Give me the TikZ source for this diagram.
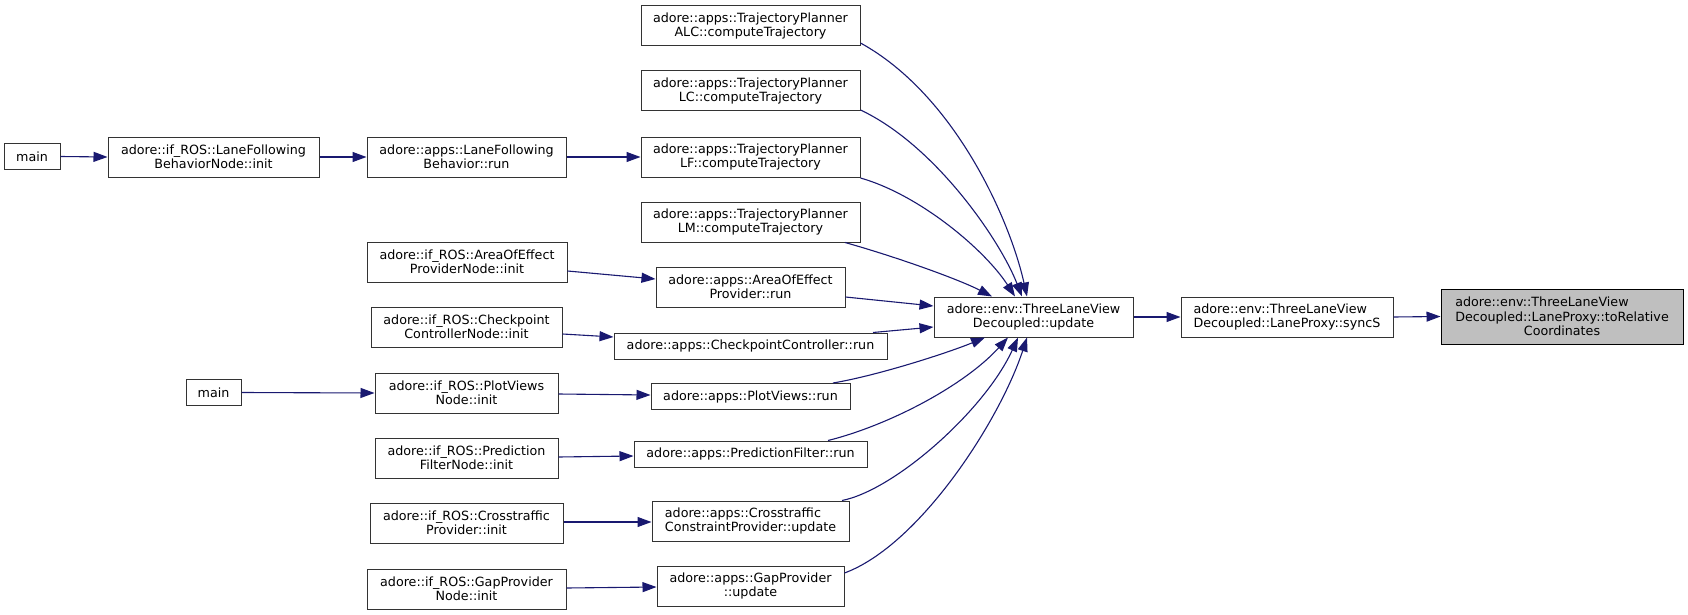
\documentclass[tikz,border=0pt]{standalone}
\usepackage{fontspec}
\setmainfont{DejaVu Sans}
\usetikzlibrary{arrows.meta,calc}
\definecolor{edgecol}{HTML}{191970}
\begin{document}
\begin{tikzpicture}[x=1pt,y=-1pt,
  fn/.style={draw=black!80, line width=1pt, fill=white, inner sep=0pt, align=center,
    font=\fontsize{12.7}{14.5}\selectfont, text=black, minimum height=40pt},
  oneline/.style={minimum height=26pt},
  rootnode/.style={fn, fill=black!25, draw=black},
  edge/.style={draw=edgecol, line width=1.1pt, -{Triangle[length=14pt,width=10pt]}},
]
\useasboundingbox (0,0) rectangle (1688,615);

% nodes
\node[fn, oneline, minimum width=56pt] (main1) at (32,156.5) {main};
\node[fn, minimum width=211pt] (LFBNode) at (213.5,157) {adore::if\_ROS::LaneFollowing\\BehaviorNode::init};
\node[fn, minimum width=199pt] (LFBrun) at (466.5,157) {adore::apps::LaneFollowing\\Behavior::run};

\node[fn, minimum width=219pt] (TPALC) at (750.5,26) {adore::apps::TrajectoryPlanner\\ALC::computeTrajectory};
\node[fn, minimum width=219pt] (TPLC) at (750.5,91) {adore::apps::TrajectoryPlanner\\LC::computeTrajectory};
\node[fn, minimum width=219pt] (TPLF) at (750.5,157) {adore::apps::TrajectoryPlanner\\LF::computeTrajectory};
\node[fn, minimum width=219pt] (TPLM) at (750.5,222) {adore::apps::TrajectoryPlanner\\LM::computeTrajectory};

\node[fn, minimum width=200pt] (AoEnode) at (467,262) {adore::if\_ROS::AreaOfEffect\\ProviderNode::init};
\node[fn, minimum width=189pt] (AoErun) at (750.5,287) {adore::apps::AreaOfEffect\\Provider::run};
\node[fn, minimum width=191pt] (CPnode) at (466.5,327) {adore::if\_ROS::Checkpoint\\ControllerNode::init};
\node[fn, oneline, minimum width=273pt] (CPrun) at (750.5,346) {adore::apps::CheckpointController::run};

\node[fn, oneline, minimum width=55pt] (main2) at (213.5,392.5) {main};
\node[fn, minimum width=183pt] (PVnode) at (466.5,393) {adore::if\_ROS::PlotViews\\Node::init};
\node[fn, oneline, minimum width=199pt] (PVrun) at (750.5,396.5) {adore::apps::PlotViews::run};
\node[fn, minimum width=183pt] (PFnode) at (466.5,458) {adore::if\_ROS::Prediction\\FilterNode::init};
\node[fn, oneline, minimum width=233pt] (PFrun) at (750.5,454) {adore::apps::PredictionFilter::run};
\node[fn, minimum width=193pt] (CTnode) at (466.5,523) {adore::if\_ROS::Crosstraffic\\Provider::init};
\node[fn, minimum width=197pt] (CTrun) at (750.5,521) {\rlap{adore::apps::Crosstraffic}\phantom{ConstraintProvider::update}\\ConstraintProvider::update};
\node[fn, minimum width=199pt] (GPnode) at (466.5,589) {adore::if\_ROS::GapProvider\\Node::init};
\node[fn, minimum width=187pt] (GPrun) at (750.5,586) {adore::apps::GapProvider\\::update};

\node[fn, minimum width=199pt] (update) at (1033.5,317) {adore::env::ThreeLaneView\\Decoupled::update};
\node[fn, minimum width=212pt] (syncS) at (1287,317) {\rlap{adore::env::ThreeLaneView}\phantom{Decoupled::LaneProxy::syncS}\\Decoupled::LaneProxy::syncS};
\node[rootnode, minimum width=242pt, minimum height=55pt] (toRel) at (1562,316.5) {\rlap{adore::env::ThreeLaneView}\phantom{Decoupled::LaneProxy::toRelative}\\Decoupled::LaneProxy::toRelative\\Coordinates};

% edges
\draw[edge] (main1.east) -- (LFBNode.west);
\draw[edge] (LFBNode.east) -- (LFBrun.west);
\draw[edge] (LFBrun.east) -- (TPLF.west);

\draw[edge] ($(TPALC.east)+(0,17)$) .. controls (955,95) and (1010,220) .. ($(update.north)+(-6.5,0)$);
\draw[edge] ($(TPLC.east)+(0,19)$) .. controls (935,145) and (1000,240) .. ($(update.north)+(-11.5,0)$);
\draw[edge] ($(TPLF.east)+(0,21)$) .. controls (920,195) and (985,250) .. ($(update.north)+(-18.5,0)$);
\draw[edge] ($(TPLM.south)+(94.5,0)$) .. controls (900,258) and (960,280) .. ($(update.north)+(-41.5,0)$);

\draw[edge] ($(AoEnode.east)+(0,9)$) -- ($(AoErun.west)+(0,-8)$);
\draw[edge] ($(CPnode.east)+(0,7)$) -- ($(CPrun.west)+(0,-9)$);
\draw[edge] (main2.east) -- (PVnode.west);
\draw[edge] ($(PVnode.east)+(0,1)$) -- ($(PVrun.west)+(0,-1.5)$);
\draw[edge] ($(PFnode.east)+(0,-1)$) -- ($(PFrun.west)+(0,2)$);
\draw[edge] ($(CTnode.east)+(0,-1)$) -- ($(CTrun.west)+(0,1)$);
\draw[edge] ($(GPnode.east)+(0,-1)$) -- ($(GPrun.west)+(0,1)$);

\draw[edge] ($(AoErun.east)+(0,10)$) -- ($(update.west)+(0,-11)$);
\draw[edge] ($(CPrun.north)+(122.5,0)$) -- ($(update.west)+(0,10)$);
\draw[edge] ($(PVrun.north)+(82.5,0)$) .. controls (880,375) and (950,352) .. ($(update.south)+(-48.5,0)$);
\draw[edge] ($(PFrun.north)+(77.5,0)$) .. controls (890,425) and (965,385) .. ($(update.south)+(-25.5,0)$);
\draw[edge] ($(CTrun.north)+(91.5,0)$) .. controls (895,490) and (985,410) .. ($(update.south)+(-15.5,0)$);
\draw[edge] ($(GPrun.east)+(0,-13)$) .. controls (920,545) and (1000,420) .. ($(update.south)+(-6.5,0)$);

\draw[edge] (update.east) -- (syncS.west);
\draw[edge] (syncS.east) -- (toRel.west);
\end{tikzpicture}
\end{document}
